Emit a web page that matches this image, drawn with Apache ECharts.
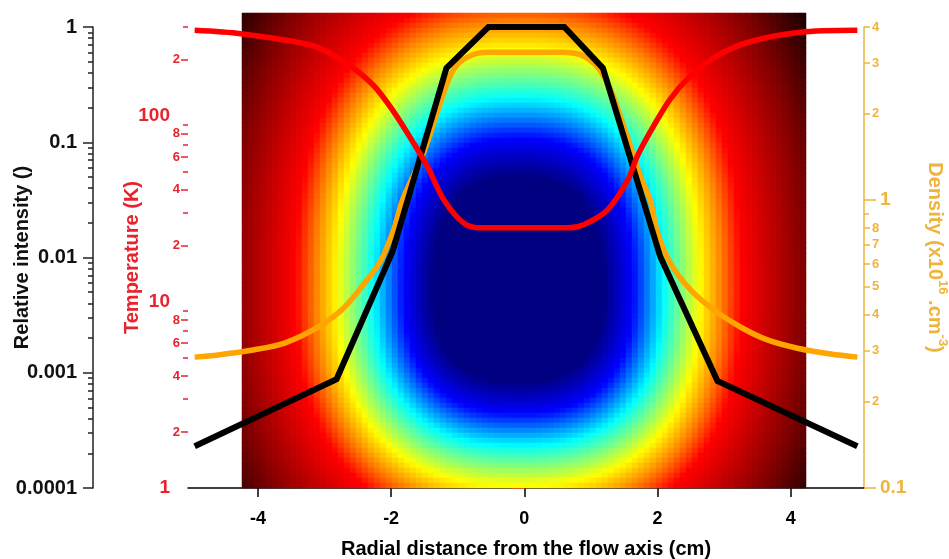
<!DOCTYPE html>
<html>
<head>
<meta charset="utf-8">
<script src="https://cdn.jsdelivr.net/npm/echarts@6/dist/echarts.min.js"></script>
<style>
  html, body { margin: 0; padding: 0; background: #ffffff; }
  #chart { width: 949px; height: 559px; }
</style>
</head>
<body>
<div id="chart"></div>
<script>
// Radial profiles across the flow (x in cm)
const tempX = [-4.95, -4.26, -3.18, -2.65, -2.26, -1.96, -1.67, -1.45, -1.21, -0.91, -0.66, 0, 0.66, 0.89, 1.24, 1.55, 1.69, 1.89, 2.19, 2.49, 2.89, 3.39, 4.14, 5.0];
const tempK = [288, 276, 238, 189, 145, 105, 72, 53, 35.4, 26.5, 25, 25, 25, 26, 31, 45, 60, 82, 123, 163, 210, 250, 281, 288];

const densX = [-4.95, -4.6, -4.1, -3.6, -3.1, -2.7, -2.4, -2.15, -1.95, -1.83, -1.5, -1.25, -1.07, -0.85, -0.55, 0, 0.55, 0.85, 1.1, 1.3, 1.55, 1.75, 1.89, 2.0, 2.2, 2.5, 2.85, 3.25, 3.65, 4.1, 4.6, 5.0];
const densVal = [0.285, 0.29, 0.301, 0.319, 0.362, 0.425, 0.515, 0.62, 0.805, 1.0, 1.49, 2.22, 2.83, 3.15, 3.27, 3.27, 3.27, 3.2, 2.9, 2.4, 1.65, 1.2, 1.0, 0.77, 0.6, 0.487, 0.415, 0.362, 0.327, 0.306, 0.292, 0.285];

const intensX = [-4.95, -2.82, -1.98, -1.17, -0.54, 0.6, 1.18, 2.04, 2.9, 5.0];
const intensVal = [2.3e-4, 8.8e-4, 0.0112, 0.44, 1, 1, 0.44, 0.0102, 8.5e-4, 2.3e-4];

// Background map: superelliptic rings around the flow axis (cm)
const mapXRange = [-4.234, 4.234];
const mapHeight = 7.13;
const mapCols = 94, mapRows = 95;
const ringCenter = [-0.08, 2.97];
const ringSemiX = 2.72;
const ringSemiUp = 3.60, ringSemiDown = 2.93;
const ringPower = 2.5;
const ringRadius = [0.47, 0.63, 0.80, 1.00, 1.12, 1.23, 1.58, 1.9];
const ringLevel  = [0, 0.125, 0.375, 0.625, 0.75, 0.875, 1.0, 1.125];

// Tick positions
const xTicks = [-4, -2, 0, 2, 4];
const tempMajor = [1, 10, 100];
const tempMinorLabeled = [2, 4, 6, 8, 20, 40, 60, 80, 200];
const tempMinor = [3, 5, 7, 9, 30, 50, 70, 90, 300];
const intensMajor = [1, 0.1, 0.01, 0.001, 0.0001];
const intensMinor = [];
[1e-4, 1e-3, 1e-2, 1e-1].forEach(function (d) {
  for (let k = 2; k <= 9; k++) intensMinor.push(+(k * d).toPrecision(3));
});
const densMajor = [0.1, 1];
const densMinorLabeled = [0.2, 0.3, 0.4, 0.5, 0.6, 0.7, 0.8, 2, 3, 4];
const densMinor = [0.9];

const FONT = '"Liberation Sans", Arial, sans-serif';
const RED_AXIS = '#e8232d';
const GOLD_AXIS = '#efb43c';

function leadDigit(v) {
  const e = Math.floor(Math.log10(v) + 1e-9);
  return String(Math.round(v / Math.pow(10, e)));
}
function plainNum(v) {
  return String(parseFloat((+v).toPrecision(6)));
}

function levelAt(r) {
  if (r <= ringRadius[0]) return ringLevel[0];
  for (let k = 1; k < ringRadius.length; k++) {
    if (r <= ringRadius[k]) {
      const t = (r - ringRadius[k - 1]) / (ringRadius[k] - ringRadius[k - 1]);
      return ringLevel[k - 1] + t * (ringLevel[k] - ringLevel[k - 1]);
    }
  }
  return ringLevel[ringLevel.length - 1];
}

const mapCells = [];
const cellW = (mapXRange[1] - mapXRange[0]) / mapCols;
const cellH = mapHeight / mapRows;
for (let j = 0; j < mapRows; j++) {
  const yUp = mapHeight - (j + 0.5) * cellH;
  const dy = (yUp - ringCenter[1]) / (yUp > ringCenter[1] ? ringSemiUp : ringSemiDown);
  for (let i = 0; i < mapCols; i++) {
    const x = mapXRange[0] + (i + 0.5) * cellW;
    const dx = (x - ringCenter[0]) / ringSemiX;
    const r = Math.pow(Math.pow(Math.abs(dx), ringPower) + Math.pow(Math.abs(dy), ringPower), 1 / ringPower);
    mapCells.push([i, j, levelAt(r)]);
  }
}

const pairs = (xs, ys) => xs.map((x, i) => [x, ys[i]]);

function logAxis(opts) {
  return Object.assign({
    type: 'log', logBase: 10, gridIndex: 0,
    splitLine: { show: false },
    axisLine: { show: false },
    axisTick: { show: false },
    axisLabel: { show: false },
    nameMoveOverlap: false
  }, opts);
}

const chart = echarts.init(document.getElementById('chart'), null, { renderer: 'canvas' });

chart.setOption({
  animation: false,
  backgroundColor: '#ffffff',
  textStyle: { fontFamily: FONT },
  grid: [
    { left: 188, right: 85, top: 27, bottom: 71, outerBoundsMode: 'none', containLabel: false },
    { left: 242, right: 143, top: 13, bottom: 71, outerBoundsMode: 'none', containLabel: false }
  ],
  visualMap: {
    show: false, type: 'continuous', seriesIndex: 0,
    min: 0, max: 1.125,
    inRange: { color: ['#000080', '#0000ff', '#0080ff', '#00ffff', '#80ff80', '#ffff00', '#ff8000', '#ff0000', '#800000', '#000000'] }
  },
  xAxis: [
    {
      type: 'value', gridIndex: 0, min: -5.05, max: 5.1, position: 'bottom',
      splitLine: { show: false }, nameMoveOverlap: false,
      axisLine: { show: true, onZero: false, lineStyle: { color: '#000', width: 1.5 } },
      axisTick: { show: true, customValues: xTicks, length: 9, lineStyle: { color: '#000', width: 1.5 } },
      axisLabel: { customValues: xTicks, margin: 22, fontSize: 18, fontWeight: 'bold', color: '#000', fontFamily: FONT },
      name: 'Radial distance from the flow axis (cm)', nameLocation: 'middle', nameGap: 51,
      nameTextStyle: { fontSize: 20, fontWeight: 'bold', color: '#000', fontFamily: FONT }
    },
    {
      type: 'category', gridIndex: 1, show: false,
      data: Array.from({ length: mapCols }, (_, i) => i)
    }
  ],
  yAxis: [
    // 0: temperature, decades
    logAxis({
      min: 1, max: 300, position: 'left', offset: 0,
      axisLine: { show: true, lineStyle: { color: RED_AXIS, width: 1.5 } },
      axisTick: { show: true, customValues: tempMajor, length: 13, lineStyle: { color: RED_AXIS, width: 1.5 } },
      axisLabel: { show: true, customValues: tempMajor, margin: 18, fontSize: 19, fontWeight: 'bold', color: RED_AXIS, fontFamily: FONT, formatter: plainNum },
      name: 'Temperature (K)', nameLocation: 'middle', nameGap: 46, nameRotate: 90,
      nameTextStyle: { fontSize: 20, fontWeight: 'bold', color: RED_AXIS, fontFamily: FONT }
    }),
    // 1: temperature, labelled sub-ticks
    logAxis({
      min: 1, max: 300, position: 'left', offset: 0,
      axisTick: { show: true, customValues: tempMinorLabeled, length: 7, lineStyle: { color: RED_AXIS, width: 1.5 } },
      axisLabel: { show: true, customValues: tempMinorLabeled, margin: 8, fontSize: 13, fontWeight: 'bold', color: RED_AXIS, fontFamily: FONT, formatter: leadDigit }
    }),
    // 2: temperature, plain sub-ticks
    logAxis({
      min: 1, max: 300, position: 'left', offset: 0,
      axisTick: { show: true, customValues: tempMinor, length: 5, lineStyle: { color: RED_AXIS, width: 1.5 } }
    }),
    // 3: relative intensity, decades
    logAxis({
      min: 0.0001, max: 1, position: 'left', offset: 95,
      axisLine: { show: true, lineStyle: { color: '#222', width: 1.5 } },
      axisTick: { show: true, customValues: intensMajor, length: 10, lineStyle: { color: '#222', width: 1.5 } },
      axisLabel: { show: true, customValues: intensMajor, margin: 16, fontSize: 20, fontWeight: 'bold', color: '#111', fontFamily: FONT, formatter: plainNum },
      name: 'Relative intensity ()', nameLocation: 'middle', nameGap: 61, nameRotate: 90,
      nameTextStyle: { fontSize: 20, fontWeight: 'bold', color: '#111', fontFamily: FONT }
    }),
    // 4: relative intensity, sub-ticks
    logAxis({
      min: 0.0001, max: 1, position: 'left', offset: 95,
      axisTick: { show: true, customValues: intensMinor, length: 5, lineStyle: { color: '#222', width: 1.5 } }
    }),
    // 5: density, decades
    logAxis({
      min: 0.1, max: 4, position: 'right', offset: 0,
      axisLine: { show: true, lineStyle: { color: GOLD_AXIS, width: 1.5 } },
      axisTick: { show: true, customValues: densMajor, length: 12, lineStyle: { color: GOLD_AXIS, width: 1.5 } },
      axisLabel: { show: true, customValues: densMajor, margin: 16, fontSize: 19, fontWeight: 'bold', color: GOLD_AXIS, fontFamily: FONT, formatter: plainNum },
      name: '{a|Density (x10}{s|16}{a| .cm}{s|-3}{a|)}', nameLocation: 'middle', nameGap: 57, nameRotate: -90,
      nameTextStyle: {
        color: GOLD_AXIS, fontFamily: FONT, fontWeight: 'bold',
        rich: {
          a: { fontSize: 20, fontWeight: 'bold', color: GOLD_AXIS, fontFamily: FONT, lineHeight: 28 },
          s: { fontSize: 13, fontWeight: 'bold', color: GOLD_AXIS, fontFamily: FONT, verticalAlign: 'top' }
        }
      }
    }),
    // 6: density, labelled sub-ticks
    logAxis({
      min: 0.1, max: 4, position: 'right', offset: 0,
      axisTick: { show: true, customValues: densMinorLabeled, length: 6, lineStyle: { color: GOLD_AXIS, width: 1.5 } },
      axisLabel: { show: true, customValues: densMinorLabeled, margin: 8, fontSize: 13, fontWeight: 'bold', color: GOLD_AXIS, fontFamily: FONT, formatter: leadDigit }
    }),
    // 7: density, plain sub-ticks
    logAxis({
      min: 0.1, max: 4, position: 'right', offset: 0,
      axisTick: { show: true, customValues: densMinor, length: 5, lineStyle: { color: GOLD_AXIS, width: 1.5 } }
    }),
    // 8: background map rows
    {
      type: 'category', gridIndex: 1, show: false, inverse: true,
      data: Array.from({ length: mapRows }, (_, j) => j)
    }
  ],
  series: [
    {
      type: 'heatmap', xAxisIndex: 1, yAxisIndex: 8,
      data: mapCells, progressive: 0, silent: true,
      itemStyle: { borderWidth: 0 }, emphasis: { disabled: true }
    },
    {
      name: 'Density', type: 'line', xAxisIndex: 0, yAxisIndex: 5,
      data: pairs(densX, densVal), showSymbol: false, smooth: 0.3, clip: false,
      lineStyle: { color: '#ffa500', width: 5.5, cap: 'butt' }, z: 3
    },
    {
      name: 'Relative intensity', type: 'line', xAxisIndex: 0, yAxisIndex: 3,
      data: pairs(intensX, intensVal), showSymbol: false, smooth: false, clip: false,
      lineStyle: { color: '#000000', width: 6, cap: 'butt', join: 'miter' }, z: 4
    },
    {
      name: 'Temperature', type: 'line', xAxisIndex: 0, yAxisIndex: 0,
      data: pairs(tempX, tempK), showSymbol: false, smooth: 0.3, clip: false,
      lineStyle: { color: '#ff0000', width: 5.5, cap: 'butt' }, z: 5
    }
  ]
});
</script>
</body>
</html>
